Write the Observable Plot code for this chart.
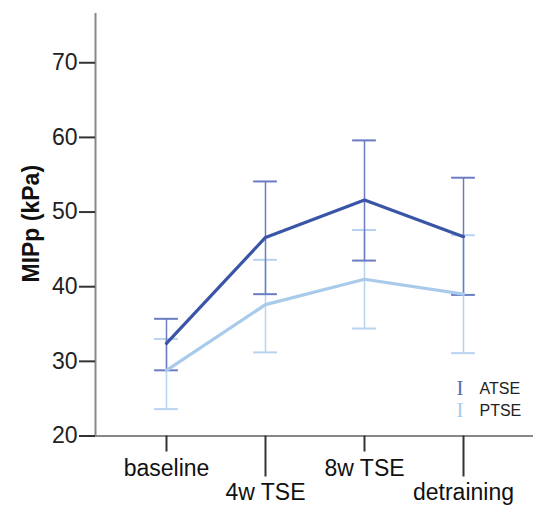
<!DOCTYPE html>
<html>
<head>
<meta charset="utf-8">
<script src="https://cdn.jsdelivr.net/npm/d3@7"></script>
<script src="https://cdn.jsdelivr.net/npm/@observablehq/plot@0.6"></script>
<style>
  html, body { margin: 0; padding: 0; background: #fff; }
  #chart svg { display: block; }
</style>
</head>
<body>
<div id="chart"></div>
<script>
const categories = ["baseline", "4w TSE", "8w TSE", "detraining"];
const seriesNames = ["ATSE", "PTSE"];
const atseMean = [32.4, 46.6, 51.6, 46.7];
const atseUpper = [35.7, 54.1, 59.6, 54.6];
const atseLower = [28.8, 39.0, 43.5, 38.9];
const ptseMean = [28.8, 37.6, 41.0, 39.0];
const ptseUpper = [33.0, 43.6, 47.6, 46.9];
const ptseLower = [23.6, 31.2, 34.4, 31.1];
const yTicks = [20, 30, 40, 50, 60, 70];

const lineColors = {ATSE: "#3a55a8", PTSE: "#a9cbeb"};
const barColors = {ATSE: "#6a7cc2", PTSE: "#b8d3ef"};
const legendGlyph = {ATSE: "#5a6cb8", PTSE: "#a9cbeb"};

const rows = [];
categories.forEach((c, i) => {
  rows.push({series: "ATSE", idx: i, cat: c, mean: atseMean[i], lo: atseLower[i], hi: atseUpper[i]});
  rows.push({series: "PTSE", idx: i, cat: c, mean: ptseMean[i], lo: ptseLower[i], hi: ptseUpper[i]});
});
const font = "Liberation Sans, Arial, sans-serif";
const xmin = -0.717, xmax = 3.707;
const cap = 0.12;

const marks = [];
for (const s of ["PTSE", "ATSE"]) {
  const d = rows.filter(r => r.series === s);
  marks.push(Plot.ruleX(d, {x: "idx", y1: "lo", y2: "hi", stroke: barColors[s], strokeWidth: 1.5}));
  marks.push(Plot.ruleY(d, {x1: r => r.idx - cap, x2: r => r.idx + cap, y: "hi", stroke: barColors[s], strokeWidth: 2}));
  marks.push(Plot.ruleY(d, {x1: r => r.idx - cap, x2: r => r.idx + cap, y: "lo", stroke: barColors[s], strokeWidth: 2}));
}
for (const s of ["PTSE", "ATSE"]) {
  const d = rows.filter(r => r.series === s);
  marks.push(Plot.line(d, {x: "idx", y: "mean", stroke: lineColors[s], strokeWidth: 3.2}));
}

const plot = Plot.plot({
  width: 536,
  height: 507,
  marginLeft: 95,
  marginRight: 3,
  marginTop: 13,
  marginBottom: 71.5,
  style: {fontFamily: font, background: "#fff"},
  x: {type: "linear", domain: [xmin, xmax], axis: null},
  y: {domain: [20, 76.6], axis: null},
  marks: [
    Plot.ruleX([xmin], {stroke: "#888", strokeWidth: 2}),
    Plot.ruleY([20], {stroke: "#888", strokeWidth: 2}),
    Plot.axisY(yTicks, {tickSize: 16, tickPadding: 2, fontSize: 23, stroke: "#333", strokeWidth: 2, color: "#222", label: null, tickFormat: d => String(d)}),
    Plot.text(["MIPp (kPa)"], {frameAnchor: "left", textAnchor: "middle", dx: -64, dy: -1, rotate: -90, fontSize: 23, fontWeight: "bold", fill: "#111"}),
    Plot.axisX([0, 2], {tickSize: 16, stroke: "#333", strokeWidth: 2, label: null, tickFormat: () => ""}),
    Plot.axisX([1, 3], {tickSize: 41, stroke: "#333", strokeWidth: 2, label: null, tickFormat: () => ""}),
    Plot.text([0, 2], {x: d => d, frameAnchor: "bottom", dy: 32.5, lineAnchor: "middle", text: d => categories[d], fontSize: 23, fill: "#111"}),
    Plot.text([1, 3], {x: d => d, frameAnchor: "bottom", dy: 57, lineAnchor: "middle", text: d => categories[d], fontSize: 23, fill: "#111"}),
    ...marks,
    ...seriesNames.map((s, i) => Plot.text([s], {frameAnchor: "bottom-right", dx: -70, dy: -47.5 + i * 22, text: () => "I", fontFamily: "Liberation Serif, serif", fontSize: 21, fill: legendGlyph[s], lineAnchor: "middle"})),
    ...seriesNames.map((s, i) => Plot.text([s], {frameAnchor: "bottom-right", dx: -54, dy: -47.5 + i * 22, text: d => d, textAnchor: "start", fontSize: 16, fill: "#222", lineAnchor: "middle"}))
  ]
});
document.getElementById("chart").appendChild(plot);
</script>
</body>
</html>
